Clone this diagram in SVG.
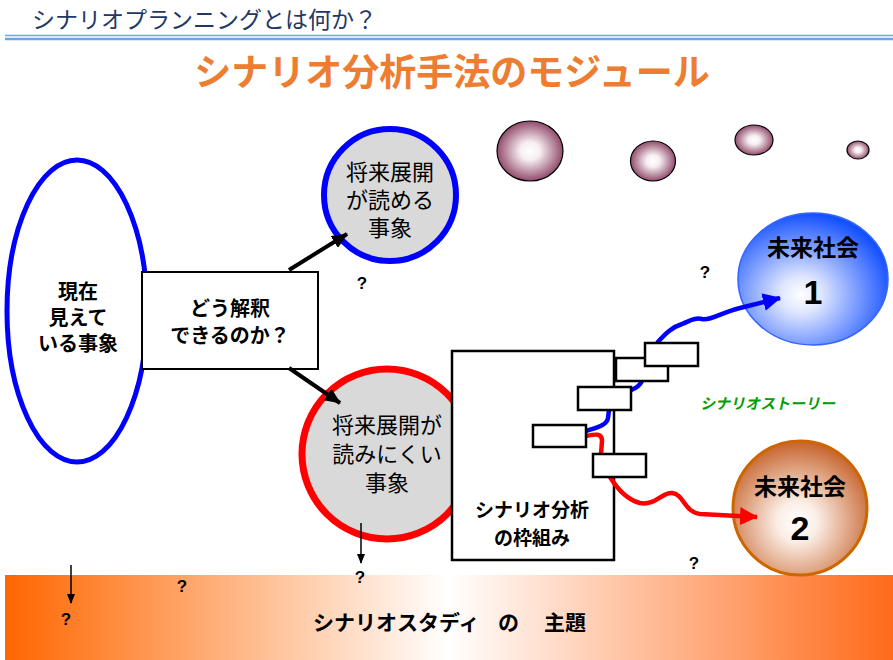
<svg xmlns="http://www.w3.org/2000/svg" width="893" height="660" viewBox="0 0 893 660">
<style>
.jp{font-family:"Noto Sans CJK JP","Noto Sans",sans-serif;}
.b{font-weight:bold;}
.c{text-anchor:middle;}
.q{font-family:"Liberation Sans",sans-serif;font-weight:bold;font-size:17px;fill:#000;text-anchor:middle;}
.sb{fill:#fff;stroke:#000;stroke-width:2.5;}
.bub{fill:url(#gPink);stroke:#000;stroke-width:1.2;}
</style>
<defs>
<radialGradient id="gPink" cx="0.5" cy="0.5" r="0.5">
<stop offset="0" stop-color="#ffffff"/><stop offset="0.3" stop-color="#f6eef2"/><stop offset="1" stop-color="#924c6c"/>
</radialGradient>
<radialGradient id="gBlue" cx="0.42" cy="0.62" r="0.62">
<stop offset="0" stop-color="#ffffff"/><stop offset="0.22" stop-color="#dfe6ff"/><stop offset="1" stop-color="#1450ff"/>
</radialGradient>
<radialGradient id="gOr" cx="0.48" cy="0.6" r="0.6">
<stop offset="0" stop-color="#ffffff"/><stop offset="0.25" stop-color="#fbeee6"/><stop offset="1" stop-color="#c6622a"/>
</radialGradient>
<linearGradient id="gBand" x1="0" y1="0" x2="1" y2="0">
<stop offset="0" stop-color="#ff6600"/><stop offset="0.5" stop-color="#ffffff"/><stop offset="1" stop-color="#ff6a1a"/>
</linearGradient>
<marker id="ak" markerUnits="userSpaceOnUse" markerWidth="16" markerHeight="14" refX="15" refY="7" orient="auto"><path d="M0,0 L16,7 L0,14 z" fill="#000"/></marker>
<marker id="aks" markerUnits="userSpaceOnUse" markerWidth="10" markerHeight="10" refX="9" refY="5" orient="auto"><path d="M0,1 L10,5 L0,9 z" fill="#000"/></marker>
<marker id="ab" markerUnits="userSpaceOnUse" markerWidth="18" markerHeight="18" refX="17" refY="9" orient="auto"><path d="M0,0 L18,9 L0,18 z" fill="#0000ff"/></marker>
<marker id="ar" markerUnits="userSpaceOnUse" markerWidth="18" markerHeight="18" refX="17" refY="9" orient="auto"><path d="M0,0 L18,9 L0,18 z" fill="#ff0000"/></marker>
</defs>
<rect width="893" height="660" fill="#fff"/>

<g id="header">
<text x="32" y="28" class="jp" font-size="23" fill="#1f3864">シナリオプランニングとは何か？</text>
<line x1="5" y1="35.5" x2="893" y2="35.5" stroke="#6fa5d8" stroke-width="1.5"/>
<line x1="5" y1="39" x2="893" y2="39" stroke="#6fa5d8" stroke-width="2.5"/>
<text x="452" y="86" class="jp b c" font-size="37" fill="#ed7d31">シナリオ分析手法のモジュール</text>
</g>

<g id="bubbles">
<ellipse class="bub" cx="530" cy="151" rx="33" ry="30"/>
<ellipse class="bub" cx="653" cy="161" rx="22.5" ry="20"/>
<ellipse class="bub" cx="754" cy="140" rx="19" ry="15"/>
<ellipse class="bub" cx="858" cy="150" rx="11" ry="9"/>
</g>

<g id="band">
<rect x="5" y="575" width="888" height="85" fill="url(#gBand)"/>
<text x="313" y="630" class="jp b" font-size="21">シナリオスタディ</text>
<text x="498" y="630" class="jp b" font-size="21">の</text>
<text x="544" y="630" class="jp b" font-size="21">主題</text>
</g>

<g id="now">
<ellipse cx="77" cy="311" rx="70" ry="151" fill="#fff" stroke="#0000ff" stroke-width="5"/>
<text x="78" y="299" class="jp b c" font-size="20">現在</text>
<text x="78" y="325" class="jp b c" font-size="20">見えて</text>
<text x="78" y="351" class="jp b c" font-size="20">いる事象</text>
</g>

<g id="readable">
<circle cx="390" cy="195" r="66" fill="#d9d9d9" stroke="#0000ff" stroke-width="6"/>
<text x="390" y="180" class="jp c" font-size="22">将来展開</text>
<text x="390" y="208" class="jp c" font-size="22">が読める</text>
<text x="390" y="236" class="jp c" font-size="22">事象</text>
</g>

<g id="unreadable">
<circle cx="387" cy="454" r="85" fill="#d9d9d9" stroke="#ff0000" stroke-width="7"/>
<text x="387" y="433" class="jp c" font-size="22">将来展開が</text>
<text x="387" y="462" class="jp c" font-size="22">読みにくい</text>
<text x="387" y="491" class="jp c" font-size="22">事象</text>
</g>

<g id="interpret">
<rect x="142" y="272" width="176" height="97" fill="#fff" stroke="#000" stroke-width="2"/>
<text x="230" y="316" class="jp b c" font-size="20">どう解釈</text>
<text x="230" y="343" class="jp b c" font-size="20">できるのか？</text>
</g>

<g id="framework">
<rect x="452" y="351" width="162" height="209" fill="#fff" stroke="#000" stroke-width="2.5"/>
<text x="532" y="517" class="jp b c" font-size="19">シナリオ分析</text>
<text x="532" y="545" class="jp b c" font-size="19">の枠組み</text>
</g>

<g id="future1">
<ellipse cx="813" cy="279" rx="75" ry="66" fill="url(#gBlue)" stroke="#3366ff" stroke-width="1.5"/>
<text x="813" y="256" class="jp b c" font-size="23">未来社会</text>
<text x="813" y="304" class="b c" font-family="Liberation Sans,sans-serif" font-size="34">1</text>
</g>

<g id="future2">
<circle cx="800" cy="508" r="67" fill="url(#gOr)" stroke="#cc6600" stroke-width="3"/>
<text x="800" y="495" class="jp b c" font-size="23">未来社会</text>
<text x="800" y="540" class="b c" font-family="Liberation Sans,sans-serif" font-size="34">2</text>
</g>

<g id="connectors" fill="none">
<line x1="289" y1="270" x2="347" y2="234" stroke="#000" stroke-width="4" marker-end="url(#ak)"/>
<line x1="289" y1="368" x2="340" y2="403" stroke="#000" stroke-width="4" marker-end="url(#ak)"/>
<line x1="361" y1="523" x2="361" y2="563" stroke="#000" stroke-width="1.5" marker-end="url(#aks)"/>
<line x1="71" y1="565" x2="71" y2="603" stroke="#000" stroke-width="1.5" marker-end="url(#aks)"/>
<path d="M586,431 C598,427 607,425 608,418 L609,410" stroke="#0000ff" stroke-width="4.5"/>
<path d="M631,390 C637,388 640,385 642,381" stroke="#0000ff" stroke-width="4.5"/>
<path d="M657,343 C665,334 672,327 682,324 C690,321 695,317 702,319 C710,321 720,313 740,308 L780,298" stroke="#0000ff" stroke-width="4.5" marker-end="url(#ab)"/>
<path d="M586,436 C596,434 602,433 602,441 L601,454" stroke="#ff0000" stroke-width="4.5"/>
<path d="M610,477 C618,490 628,500 640,503 C655,506 662,492 672,493 C684,494 684,512 700,514 L757,517" stroke="#ff0000" stroke-width="4.5" marker-end="url(#ar)"/>
</g>

<g id="steps">
<rect class="sb" x="616" y="358" width="52" height="23"/>
<rect class="sb" x="645" y="343" width="53" height="23"/>
<rect class="sb" x="578" y="387" width="53" height="23"/>
<rect class="sb" x="533" y="425" width="53" height="22"/>
<rect class="sb" x="593" y="454" width="53" height="23"/>
</g>

<g id="labels">
<text x="769" y="409" class="jp b c" font-size="15" fill="#00a000" transform="translate(769,403) skewX(-12) translate(-769,-403)">シナリオストーリー</text>
<text x="362" y="289" class="q">?</text>
<text x="705" y="278" class="q">?</text>
<text x="694" y="569" class="q">?</text>
<text x="360" y="583" class="q">?</text>
<text x="182" y="592" class="q">?</text>
<text x="66" y="625" class="q">?</text>
</g>
</svg>
